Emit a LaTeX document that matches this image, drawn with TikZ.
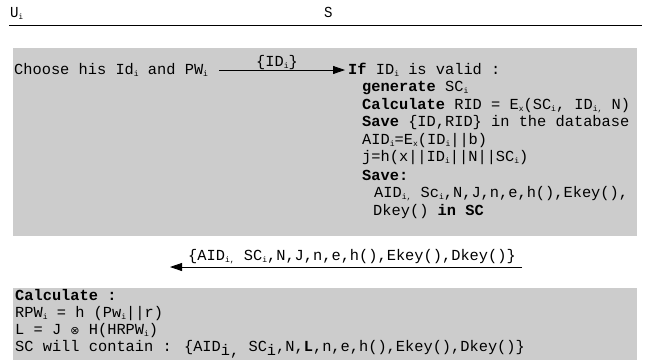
\documentclass[tikz,border=0pt]{standalone}
\usepackage{fontspec}
\setmonofont{Liberation Mono}
\newfontfamily\mymono{Liberation Mono}
\newfontfamily\condmono[FakeStretch=0.92]{Liberation Mono}
\newfontfamily\symfont{DejaVu Sans}
\usetikzlibrary{arrows.meta}
\definecolor{boxgray}{HTML}{CCCCCC}
\newcommand{\smsub}[1]{\raisebox{-0.3ex}{\fontsize{8bp}{8bp}\selectfont #1}}
\newcommand{\bigsub}[1]{\raisebox{-0.55ex}{#1}}
\tikzset{
  txt/.style={anchor=base west, inner sep=0pt, font=\mymono\fontsize{15.35bp}{17bp}\selectfont},
  ctxt/.style={anchor=base west, inner sep=0pt, font=\condmono\fontsize{15.3bp}{17bp}\selectfont},
  lbl/.style={anchor=base, inner sep=0pt, font=\mymono\fontsize{15.35bp}{17bp}\selectfont},
  msg/.style={-{Triangle[length=12bp,width=8bp]}, line width=0.8bp},
  gbox/.style={fill=boxgray, draw=none}
}
\begin{document}
\begin{tikzpicture}[x=1bp,y=-1bp]
\useasboundingbox (0,0) rectangle (645,360);
% header
\node[ctxt] (u) at (10,17) {U\smsub{i}};
\node[ctxt] (s) at (324,17) {S};
\draw[line width=1.5bp] (9,25.5) coordinate (hl) -- (642,25.5) coordinate (hr);
% boxes
\fill[gbox] (13,47.5) rectangle (637,236);
\fill[gbox] (13,288) rectangle (637,360);
% left text
\node[txt] (choose) at (14,74) {Choose his Id\smsub{i} and PW\smsub{i}};
\coordinate (a1s) at (219,70);
\coordinate (a1e) at (345,70);
\draw[msg] (a1s) -- (a1e);
\node[lbl] (m1) at (277,66) {\{ID\smsub{i}\}};
% server text
\node[txt] (l1) at (348,74) {\textbf{If} ID\smsub{i} is valid :};
\node[txt] (l2) at (362,91.5) {\textbf{generate} SC\smsub{i}};
\node[txt] (l3) at (362,109) {\textbf{Calculate} RID = E\smsub{x}(SC\smsub{i}, ID\smsub{i,} N)};
\node[txt] (l4) at (362,126.5) {\textbf{Save} \{ID,RID\} in the database};
\node[txt] (l5) at (362,144) {AID\smsub{i}=E\smsub{x}(ID\smsub{i}||b)};
\node[txt] (l6) at (362,161.5) {j=h(x||ID\smsub{i}||N||SC\smsub{i})};
\node[txt] (l7) at (362,180) {\textbf{Save:}};
\node[txt] (l8) at (374,197.5) {AID\smsub{i,} Sc\smsub{i},N,J,n,e,h(),Ekey(),};
\node[txt] (l9) at (373,215) {Dkey() \textbf{in SC}};
% return message
\coordinate (a2s) at (522,267);
\coordinate (a2e) at (170,267);
\draw[msg] (a2s) -- (a2e);
\node[lbl] (m2) at (352,260) {\{AID\smsub{i,} SC\smsub{i},N,J,n,e,h(),Ekey(),Dkey()\}};
% bottom box
\node[txt] (b1) at (15,300) {\textbf{Calculate :}};
\node[txt] (b2) at (15,317.5) {RPW\smsub{i} = h (Pw\smsub{i}||r)};
\node[txt] (b3) at (15,334.5) {L = J {\symfont\fontsize{11bp}{11bp}\selectfont ⊗} H(HRPW\smsub{i})};
\node[txt] (b4) at (15,351.5) {SC will contain : \{AID\bigsub{i,}  SC\bigsub{i},N,\textbf{L},n,e,h(),Ekey(),Dkey()\}};
\end{tikzpicture}
\end{document}
